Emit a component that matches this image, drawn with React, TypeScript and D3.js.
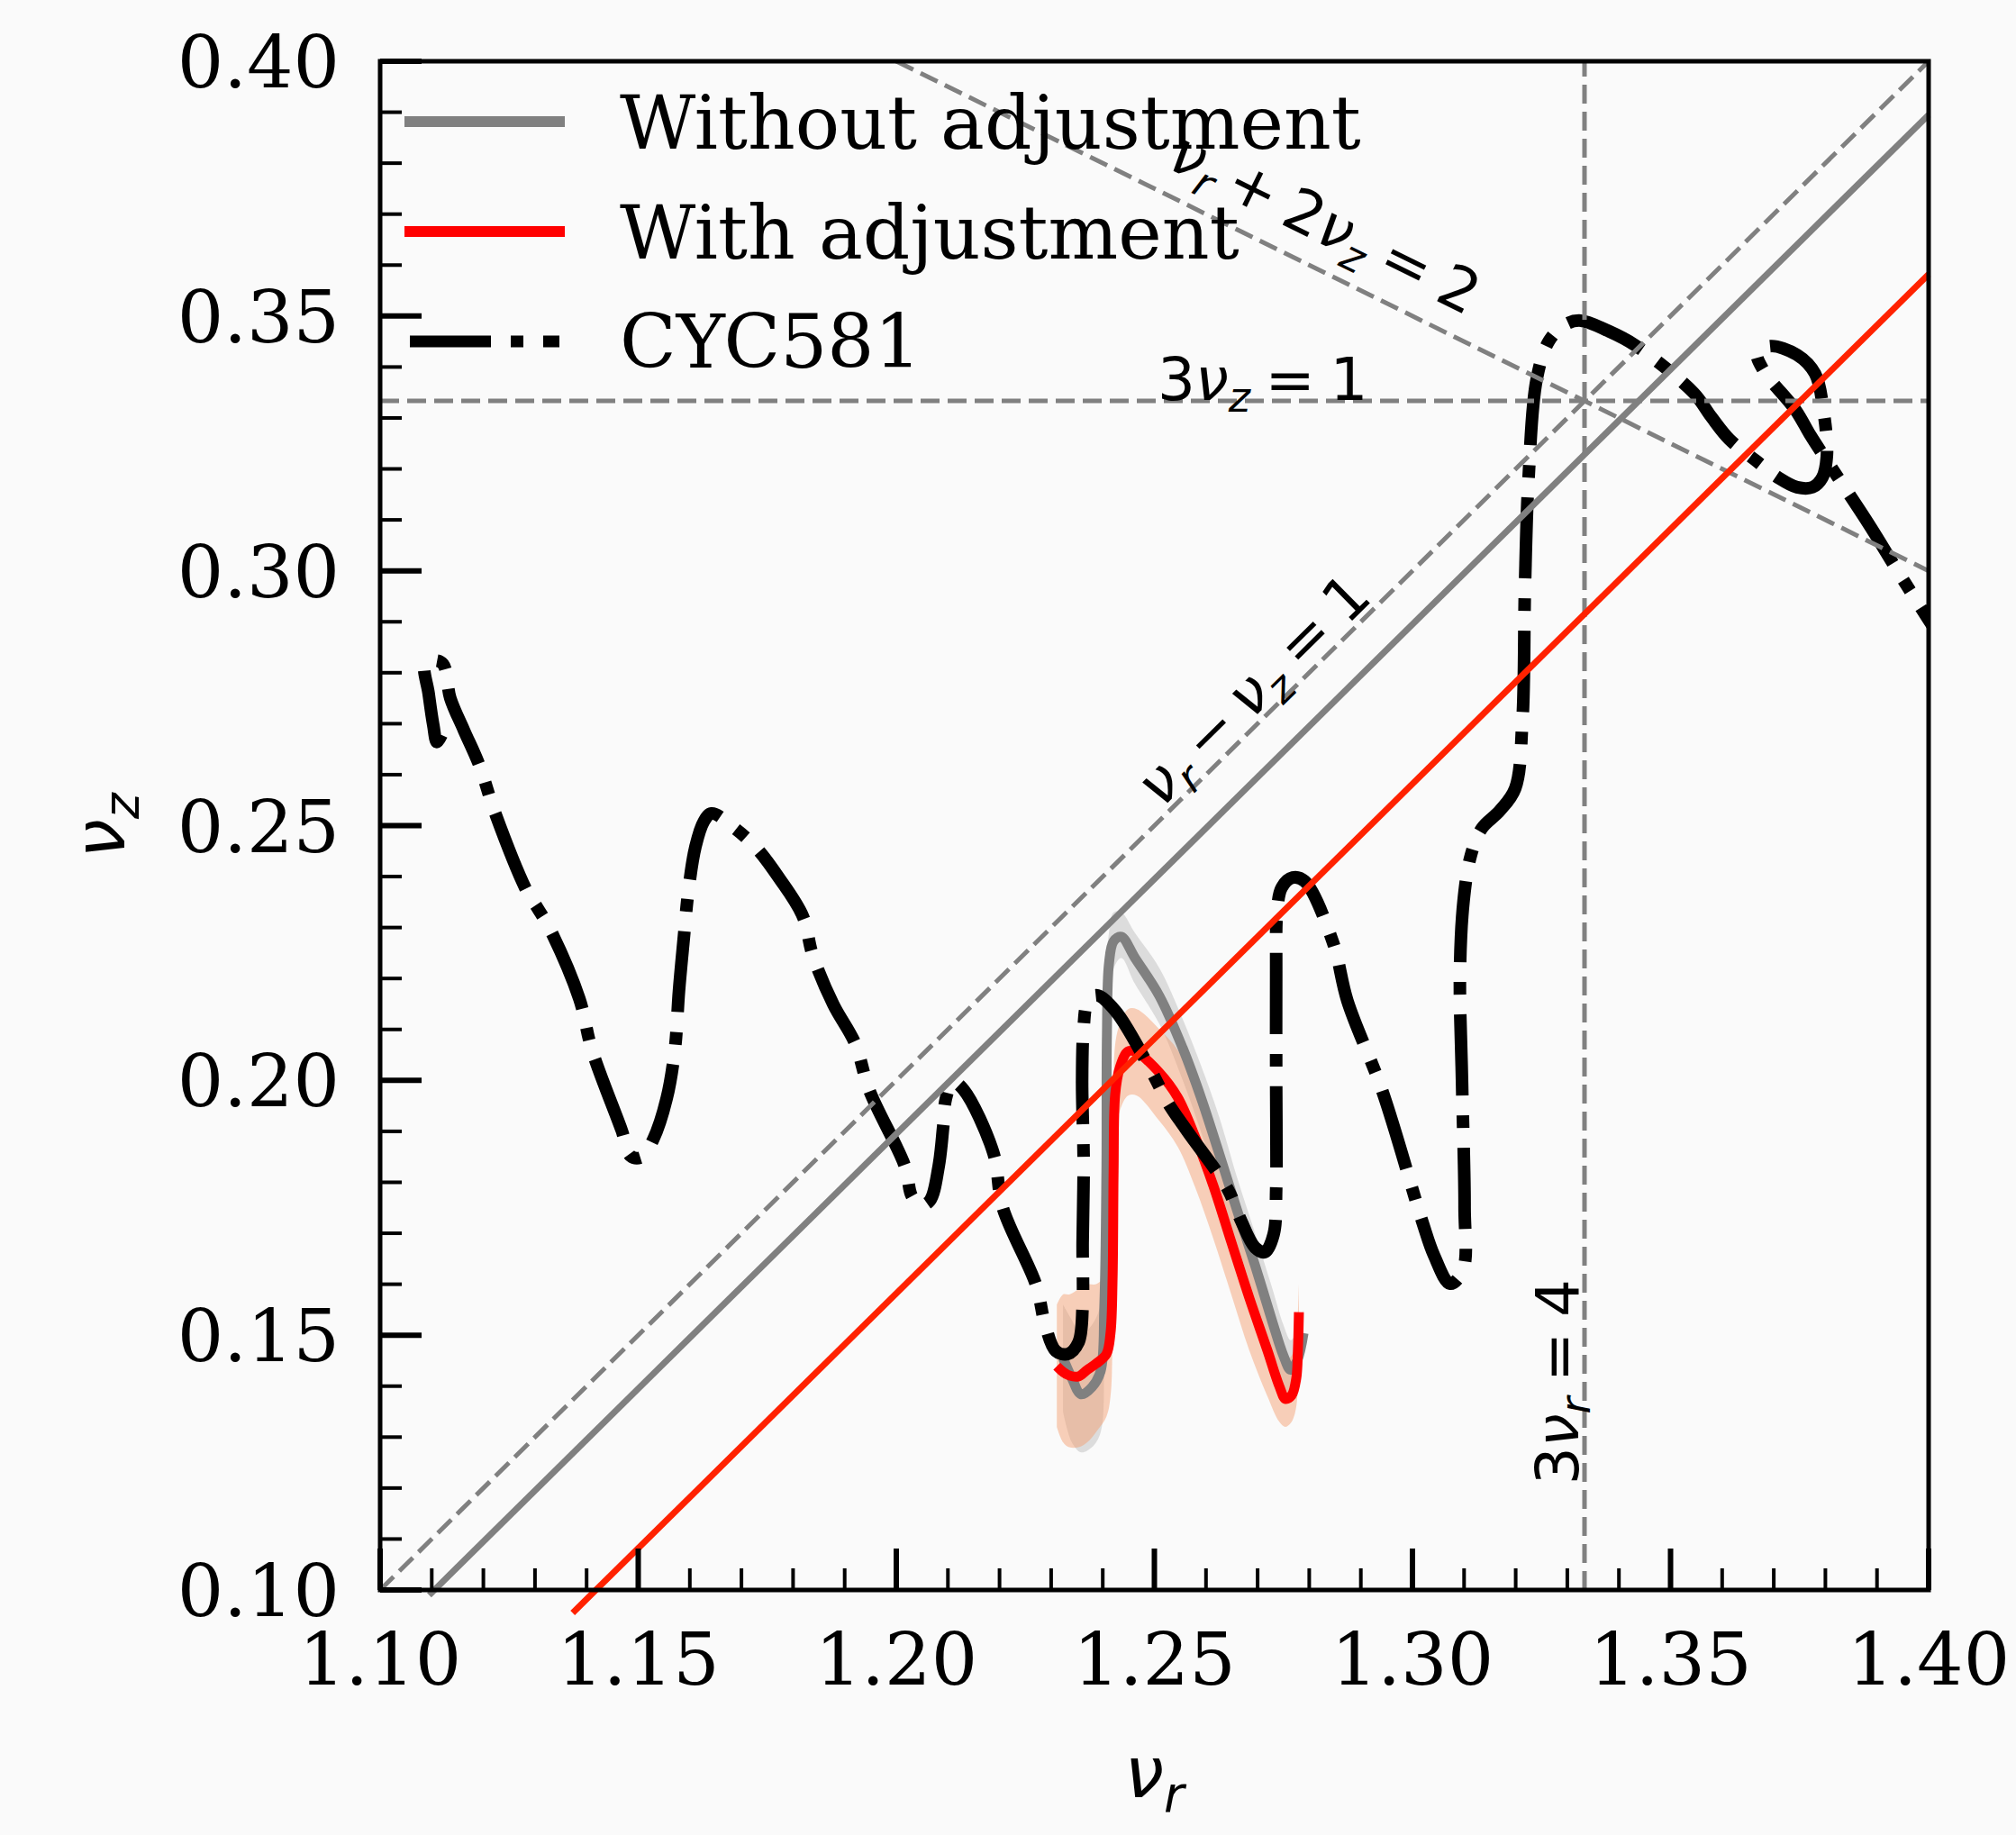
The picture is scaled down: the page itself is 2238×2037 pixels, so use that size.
import React from "react";
import * as d3 from "d3";

// ---------- data ----------
const xTickValues = [1.1, 1.15, 1.2, 1.25, 1.3, 1.35, 1.4];
const xTickLabels = ["1.10", "1.15", "1.20", "1.25", "1.30", "1.35", "1.40"];
const yTickValues = [0.1, 0.15, 0.2, 0.25, 0.3, 0.35, 0.4];
const yTickLabels = ["0.10", "0.15", "0.20", "0.25", "0.30", "0.35", "0.40"];

// CYC581 working path (nu_r, nu_z)
const cycNuR = [
  1.1119, 1.111, 1.1103, 1.1094, 1.1087, 1.1105, 1.1122, 1.1136, 1.1162, 1.1192,
  1.1223, 1.1284, 1.1305, 1.1328, 1.1386, 1.141, 1.1468, 1.1485, 1.1506, 1.1529,
  1.1555, 1.1571, 1.1579, 1.1588, 1.1597, 1.1611, 1.1627, 1.1642, 1.1688, 1.173,
  1.1773, 1.1819, 1.1838, 1.1878, 1.192, 1.1948, 1.2017, 1.203, 1.2047, 1.2065,
  1.2082, 1.2091, 1.2096, 1.211, 1.2131, 1.2188, 1.2206, 1.2271, 1.2288, 1.2309,
  1.2332, 1.2353, 1.2361, 1.2361, 1.2363, 1.236, 1.2363, 1.237, 1.2387, 1.2424,
  1.2492, 1.2527, 1.2562, 1.2642, 1.2667, 1.2695, 1.2714, 1.2731, 1.2736, 1.2736,
  1.2736, 1.2738, 1.2747, 1.2768, 1.2791, 1.2846, 1.2874, 1.2941, 1.3019, 1.3042,
  1.3073, 1.3098, 1.3101, 1.3096, 1.3092, 1.3099, 1.3113, 1.3134, 1.3169, 1.3199,
  1.3213, 1.3218, 1.3225, 1.3241, 1.3265, 1.3297, 1.3326, 1.3379, 1.3431, 1.3545,
  1.3579, 1.3614, 1.3667, 1.371, 1.3745, 1.3775, 1.3794, 1.3803, 1.3796, 1.378,
  1.3745, 1.3693, 1.3668, 1.3681, 1.3742, 1.3771, 1.3801, 1.3885, 1.3941, 1.4, 1.4042,
];
const cycNuZ = [
  0.2678, 0.2664, 0.2697, 0.2759, 0.2816, 0.2824, 0.2817, 0.275, 0.2688, 0.2619,
  0.2524, 0.2372, 0.2338, 0.2299, 0.216, 0.2061, 0.1902, 0.1852, 0.1849, 0.1884,
  0.1964, 0.2061, 0.2176, 0.2276, 0.237, 0.2459, 0.2508, 0.2524, 0.2494, 0.2455,
  0.2397, 0.2322, 0.2246, 0.2149, 0.2073, 0.198, 0.1831, 0.1773, 0.1755, 0.1764,
  0.1831, 0.1911, 0.1964, 0.1997, 0.1981, 0.1858, 0.1751, 0.1598, 0.1522, 0.1469,
  0.1463, 0.1486, 0.1557, 0.1681, 0.184, 0.1999, 0.2105, 0.2151, 0.2167, 0.2137,
  0.2022, 0.1955, 0.1903, 0.1787, 0.1727, 0.1672, 0.1663, 0.1698, 0.1787, 0.1999,
  0.2211, 0.2335, 0.2379, 0.2398, 0.2391, 0.2271, 0.2156, 0.1981, 0.1723, 0.1656,
  0.1601, 0.1628, 0.1751, 0.1999, 0.2211, 0.2352, 0.2441, 0.2494, 0.2529, 0.2573,
  0.2706, 0.2971, 0.3183, 0.3378, 0.3452, 0.3484, 0.3491, 0.3471, 0.3443, 0.3349,
  0.3302, 0.3258, 0.3215, 0.3182, 0.3164, 0.3164, 0.3183, 0.3228, 0.3316, 0.3387,
  0.3424, 0.3441, 0.3427, 0.3392, 0.3316, 0.3266, 0.3219, 0.309, 0.2998, 0.2904, 0.2839,
];

// Without adjustment (gray) with band
const withoutNuR = [1.2323, 1.234, 1.2358, 1.2379, 1.2396, 1.2403, 1.2407, 1.2408, 1.2412, 1.2421, 1.2436, 1.2462, 1.251, 1.2555, 1.259, 1.2625, 1.266, 1.2695, 1.2729, 1.275, 1.2764, 1.2777, 1.2789];
const withoutNuZ = [0.1455, 0.1416, 0.1384, 0.1398, 0.143, 0.1557, 0.1822, 0.2087, 0.2229, 0.2273, 0.2282, 0.2241, 0.2165, 0.2063, 0.1967, 0.1858, 0.1746, 0.1637, 0.1525, 0.146, 0.1432, 0.1451, 0.1504];
const withoutLower = [0.135, 0.129, 0.127, 0.128, 0.131, 0.145, 0.17, 0.198, 0.216, 0.222, 0.224, 0.219, 0.211, 0.2, 0.19, 0.179, 0.168, 0.157, 0.146, 0.14, 0.138, 0.14, 0.146];
const withoutUpper = [0.156, 0.153, 0.15, 0.152, 0.156, 0.168, 0.195, 0.22, 0.229, 0.233, 0.233, 0.229, 0.222, 0.212, 0.203, 0.193, 0.181, 0.17, 0.159, 0.152, 0.149, 0.151, 0.155];

// With adjustment (red) with band
const withNuR = [1.2311, 1.2323, 1.2335, 1.2353, 1.237, 1.2387, 1.2407, 1.2415, 1.2419, 1.2421, 1.2424, 1.2433, 1.2449, 1.2466, 1.251, 1.2545, 1.2579, 1.2614, 1.2649, 1.2684, 1.2719, 1.2742, 1.2754, 1.2766, 1.2775, 1.2778, 1.278];
const withNuZ = [0.1439, 0.1428, 0.1421, 0.1419, 0.1432, 0.1444, 0.1463, 0.1504, 0.161, 0.1822, 0.1972, 0.2025, 0.2057, 0.2055, 0.2015, 0.1967, 0.1889, 0.1794, 0.1683, 0.1573, 0.147, 0.14, 0.1375, 0.1382, 0.1416, 0.1469, 0.1545];
const withLower = [0.132, 0.129, 0.128, 0.128, 0.129, 0.131, 0.134, 0.138, 0.15, 0.17, 0.188, 0.194, 0.197, 0.197, 0.192, 0.187, 0.179, 0.169, 0.158, 0.147, 0.138, 0.133, 0.132, 0.133, 0.136, 0.141, 0.149];
const withUpper = [0.156, 0.158, 0.158, 0.159, 0.16, 0.16, 0.162, 0.165, 0.175, 0.195, 0.207, 0.211, 0.214, 0.214, 0.21, 0.206, 0.199, 0.19, 0.179, 0.168, 0.157, 0.148, 0.145, 0.146, 0.149, 0.154, 0.16];

// resonance / reference lines
const diffLineNuR = [1.1, 1.4]; // nu_r - nu_z = 1
const sumLineNuR = [1.2, 1.4]; // nu_r + 2 nu_z = 2
const thirdNuZ = 1 / 3; // 3 nu_z = 1
const thirdNuR = 4 / 3; // 3 nu_r = 4
const withoutResOffset = 1.0105;
const withoutResNuR = [1.1095, 1.4];
const withResOffset = 1.0418;
const withResNuR = [1.1373, 1.4];

const legendLabels = ["Without adjustment", "With adjustment", "CYC581"];

// ---------- layout ----------
const W = 2238;
const H = 2037;
const PL = 422, PR = 2141, PT = 68, PB = 1765;

type Part = { t: string; it?: boolean; sub?: boolean; dx?: number };
function mathSpans(parts: Part[], fs: number) {
  let shift = 0;
  return parts.map((p, i) => {
    const target = p.sub ? 0.2 * fs : 0;
    const dy = target - shift;
    shift = target;
    return (
      <tspan key={i} dy={dy} dx={(p.dx ?? 0) * fs} fontStyle={p.it ? "italic" : "normal"} fontSize={p.sub ? fs * 0.7 : fs}>
        {p.t}
      </tspan>
    );
  });
}

export default function App() {
  const x = d3.scaleLinear().domain([1.1, 1.4]).range([PL, PR]);
  const y = d3.scaleLinear().domain([0.1, 0.4]).range([PB, PT]);

  const idx = (n: number) => d3.range(n);
  const curve = d3.curveCatmullRom.alpha(0.5);

  const lineOf = (rs: number[], zs: number[]) =>
    d3.line<number>().x((i) => x(rs[i])).y((i) => y(zs[i])).curve(curve)(idx(rs.length)) || "";
  const areaOf = (rs: number[], lo: number[], hi: number[]) =>
    d3.area<number>().x((i) => x(rs[i])).y0((i) => y(lo[i])).y1((i) => y(hi[i])).curve(curve)(idx(rs.length)) || "";

  const straight = d3.line<[number, number]>().x((d) => x(d[0])).y((d) => y(d[1]));

  const minorX = d3.range(110, 141).map((v) => v / 100).filter((v) => !xTickValues.some((t) => Math.abs(t - v) < 1e-6));
  const minorY = d3.range(10, 41).map((v) => v / 100).filter((v) => !yTickValues.some((t) => Math.abs(t - v) < 1e-6));

  const gridGray = "#808080";
  const dash = "21 9";
  const mfs = 66;

  const diffAngle = (Math.atan2(y(0.4) - y(0.1), x(1.4) - x(1.1)) * 180) / Math.PI;
  const sumAngle = (Math.atan2(y(0.3) - y(0.4), x(1.4) - x(1.2)) * 180) / Math.PI;

  const cycDash = "90 22 14 22";

  return (
    <svg width={W} height={H} style={{ position: "absolute", left: 0, top: 0 }} xmlns="http://www.w3.org/2000/svg">
      <defs>
        <clipPath id="plotclip">
          <rect x={PL} y={PT} width={PR - PL} height={PB - PT} />
        </clipPath>
      </defs>
      <rect x={0} y={0} width={W} height={H} fill="#fafafa" />

      {/* bands and curves */}
      <g clipPath="url(#plotclip)">
        <path d={areaOf(withoutNuR, withoutLower, withoutUpper)} fill="#b8b8b8" fillOpacity={0.45} stroke="none" />
        <path d={areaOf(withNuR, withLower, withUpper)} fill="#f59a68" fillOpacity={0.45} stroke="none" />
        <path d={lineOf(withoutNuR, withoutNuZ)} fill="none" stroke="#808080" strokeWidth={11} strokeLinejoin="round" />
        <path d={lineOf(withNuR, withNuZ)} fill="none" stroke="#ff0000" strokeWidth={11} strokeLinejoin="round" />
        <path d={lineOf(cycNuR, cycNuZ)} fill="none" stroke="#000" strokeWidth={14} strokeDasharray={cycDash} strokeLinecap="butt" />
      </g>

      {/* reference lines */}
      <g clipPath="url(#plotclip)">
        <path d={straight(diffLineNuR.map((r) => [r, r - 1]) as [number, number][]) || ""} stroke={gridGray} strokeWidth={5} strokeDasharray={dash} fill="none" />
        <path d={straight(sumLineNuR.map((r) => [r, (2 - r) / 2]) as [number, number][]) || ""} stroke={gridGray} strokeWidth={5} strokeDasharray={dash} fill="none" />
        <path d={straight([[1.1, thirdNuZ], [1.4, thirdNuZ]]) || ""} stroke={gridGray} strokeWidth={5} strokeDasharray={dash} fill="none" />
        <path d={straight([[thirdNuR, 0.1], [thirdNuR, 0.4]]) || ""} stroke={gridGray} strokeWidth={5} strokeDasharray={dash} fill="none" />
      </g>
      <path d={straight(withoutResNuR.map((r) => [r, r - withoutResOffset]) as [number, number][]) || ""} stroke="#808080" strokeWidth={7} fill="none" />
      <path d={straight(withResNuR.map((r) => [r, r - withResOffset]) as [number, number][]) || ""} stroke="#ff2200" strokeWidth={7} fill="none" />

      {/* annotations */}
      <g fontFamily="DejaVu Sans" fill="#000">
        <text x={x(1.2506)} y={y(thirdNuZ) - 1} fontSize={mfs}>
          {mathSpans([{ t: "3" }, { t: "ν", it: true }, { t: "z", it: true, sub: true }, { t: "=", dx: 0.25 }, { t: "1", dx: 0.25 }], mfs)}
        </text>
        <g transform={`translate(${x(1.2695)},${y(0.2763)}) rotate(${diffAngle})`}>
          <text x={0} y={0.3 * mfs} textAnchor="middle" fontSize={mfs}>
            {mathSpans([{ t: "ν", it: true }, { t: "r", it: true, sub: true }, { t: "−", dx: 0.22 }, { t: "ν", it: true, dx: 0.22 }, { t: "z", it: true, sub: true }, { t: "=", dx: 0.25 }, { t: "1", dx: 0.25 }], mfs)}
          </text>
        </g>
        <g transform={`translate(${x(1.2829)},${y(0.3678)}) rotate(${sumAngle})`}>
          <text x={0} y={0.3 * mfs} textAnchor="middle" fontSize={mfs}>
            {mathSpans([{ t: "ν", it: true }, { t: "r", it: true, sub: true }, { t: "+", dx: 0.22 }, { t: "2", dx: 0.22 }, { t: "ν", it: true }, { t: "z", it: true, sub: true }, { t: "=", dx: 0.25 }, { t: "2", dx: 0.25 }], mfs)}
          </text>
        </g>
        <g transform={`translate(${x(1.3321)},${y(0.1408)}) rotate(-90)`}>
          <text x={0} y={0} textAnchor="middle" fontSize={mfs}>
            {mathSpans([{ t: "3" }, { t: "ν", it: true }, { t: "r", it: true, sub: true }, { t: "=", dx: 0.25 }, { t: "4", dx: 0.25 }], mfs)}
          </text>
        </g>
      </g>

      {/* spines */}
      <rect x={PL} y={PT} width={PR - PL} height={PB - PT} fill="none" stroke="#000" strokeWidth={5} />

      {/* ticks */}
      <g stroke="#000">
        {xTickValues.map((v) => (
          <line key={"xM" + v} x1={x(v)} x2={x(v)} y1={PB} y2={PB - 46} strokeWidth={6} />
        ))}
        {minorX.map((v) => (
          <line key={"xm" + v} x1={x(v)} x2={x(v)} y1={PB} y2={PB - 24} strokeWidth={4} />
        ))}
        {yTickValues.map((v) => (
          <line key={"yM" + v} x1={PL} x2={PL + 46} y1={y(v)} y2={y(v)} strokeWidth={6} />
        ))}
        {minorY.map((v) => (
          <line key={"ym" + v} x1={PL} x2={PL + 24} y1={y(v)} y2={y(v)} strokeWidth={4} />
        ))}
      </g>

      {/* tick labels */}
      <g fontFamily="DejaVu Serif" fontSize={81} fill="#000">
        {xTickValues.map((v, i) => (
          <text key={"xl" + v} x={x(v)} y={1870} textAnchor="middle">
            {xTickLabels[i]}
          </text>
        ))}
        {yTickValues.map((v, i) => (
          <text key={"yl" + v} x={377} y={y(v) + 29} textAnchor="end">
            {yTickLabels[i]}
          </text>
        ))}
      </g>

      {/* axis labels */}
      <g fontFamily="DejaVu Sans" fill="#000">
        <text x={(PL + PR) / 2} y={1995} textAnchor="middle" fontSize={78}>
          {mathSpans([{ t: "ν", it: true }, { t: "r", it: true, sub: true }], 78)}
        </text>
        <g transform={`translate(138,${(PT + PB) / 2}) rotate(-90)`}>
          <text x={0} y={0} textAnchor="middle" fontSize={78}>
            {mathSpans([{ t: "ν", it: true }, { t: "z", it: true, sub: true }], 78)}
          </text>
        </g>
      </g>

      {/* legend */}
      <g>
        <line x1={449} x2={627} y1={135} y2={135} stroke="#808080" strokeWidth={12} />
        <line x1={449} x2={627} y1={257} y2={257} stroke="#ff0000" strokeWidth={12} />
        <line x1={455} x2={621} y1={379} y2={379} stroke="#000" strokeWidth={13} strokeDasharray={cycDash} />
        <g fontFamily="DejaVu Serif" fontSize={82} fill="#000">
          <text x={688} y={165}>{legendLabels[0]}</text>
          <text x={688} y={287}>{legendLabels[1]}</text>
          <text x={688} y={408}>{legendLabels[2]}</text>
        </g>
      </g>
    </svg>
  );
}
